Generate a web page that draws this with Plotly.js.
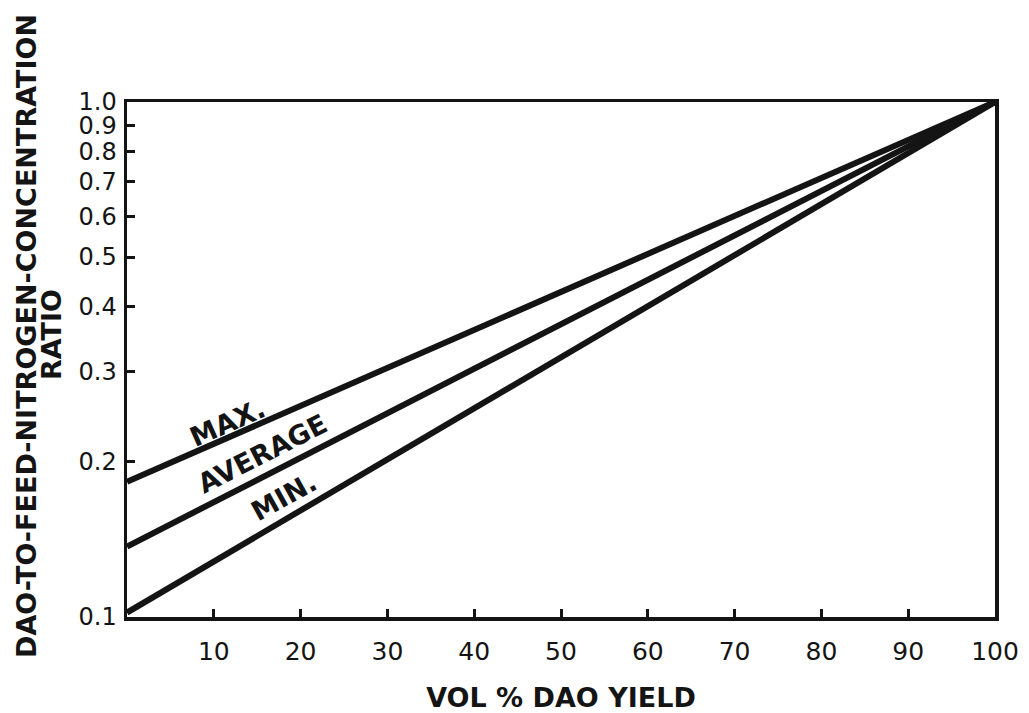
<!DOCTYPE html>
<html>
<head>
<meta charset="utf-8">
<script src="https://cdn.plot.ly/plotly-3.0.1.min.js"></script>
<style>html,body{margin:0;padding:0;background:#fff;}#chart{width:1029px;height:713px;}</style>
</head>
<body>
<div id="chart"></div>
<script>
// Data
const yieldPct = [0, 100];
const maxRatio = [0.183, 1.0];
const avgRatio = [0.137, 1.0];
const minRatio = [0.102, 1.0];
const xTickVals = [10, 20, 30, 40, 50, 60, 70, 80, 90, 100];
const xTickText = ["10", "20", "30", "40", "50", "60", "70", "80", "90", "100"];
const yTickVals = [0.1, 0.2, 0.3, 0.4, 0.5, 0.6, 0.7, 0.8, 0.9, 1.0];
const yTickText = ["0.1", "0.2", "0.3", "0.4", "0.5", "0.6", "0.7", "0.8", "0.9", "1.0"];
const curveLabels = ["MAX.", "AVERAGE", "MIN."];

const lineStyle = {color: "#141414", width: 6};
const traces = [maxRatio, avgRatio, minRatio].map((ys, i) => ({
  x: yieldPct, y: ys, mode: "lines", type: "scatter",
  name: curveLabels[i], line: lineStyle, hoverinfo: "skip", cliponaxis: true
}));

const labelFont = {family: "DejaVu Sans", size: 27, color: "#141414"};
const annPos = [[11.6, -0.622, -24], [15.6, -0.682, -27], [18.1, -0.766, -29]];

const layout = {
  width: 1029, height: 713,
  margin: {l: 127, r: 34, t: 102, b: 96},
  paper_bgcolor: "#fff", plot_bgcolor: "#fff",
  showlegend: false,
  font: {family: "DejaVu Sans", color: "#141414"},
  xaxis: {
    range: [0, 100], tickmode: "array", tickvals: xTickVals, ticktext: xTickText,
    ticks: "inside", ticklen: 8, tickwidth: 3, tickcolor: "#141414",
    showline: true, linewidth: 3.5, linecolor: "#141414", mirror: true,
    showgrid: false, zeroline: false,
    tickfont: {family: "DejaVu Sans", size: 25, color: "#141414"},
    ticklabelstandoff: 9,
    title: {text: "<b>VOL % DAO YIELD</b>", font: {family: "DejaVu Sans", size: 27, color: "#141414"}, standoff: 24}
  },
  yaxis: {
    type: "log", range: [-1, 0], tickmode: "array", tickvals: yTickVals, ticktext: yTickText,
    ticks: "inside", ticklen: 8, tickwidth: 3, tickcolor: "#141414",
    showline: true, linewidth: 3.5, linecolor: "#141414", mirror: true,
    showgrid: false, zeroline: false,
    tickfont: {family: "DejaVu Sans", size: 24, color: "#141414"},
    ticklabelstandoff: 2
  },
  annotations: curveLabels.map((t, i) => ({
    text: "<b>" + t + "</b>", x: annPos[i][0], y: annPos[i][1], xref: "x", yref: "y",
    textangle: annPos[i][2], showarrow: false, font: labelFont,
    xanchor: "center", yanchor: "middle"
  })).concat([
    {text: "<b>DAO-TO-FEED-NITROGEN-CONCENTRATION</b>", xref: "paper", yref: "paper",
     x: (26 - 127) / 868, y: (617 - 336) / 515, textangle: -90, showarrow: false,
     xanchor: "center", yanchor: "middle", font: labelFont},
    {text: "<b>RATIO</b>", xref: "paper", yref: "paper",
     x: (51 - 127) / 868, y: (617 - 335) / 515, textangle: -90, showarrow: false,
     xanchor: "center", yanchor: "middle", font: labelFont}
  ])
};

Plotly.newPlot("chart", traces, layout, {staticPlot: true, displayModeBar: false});
</script>
</body>
</html>
